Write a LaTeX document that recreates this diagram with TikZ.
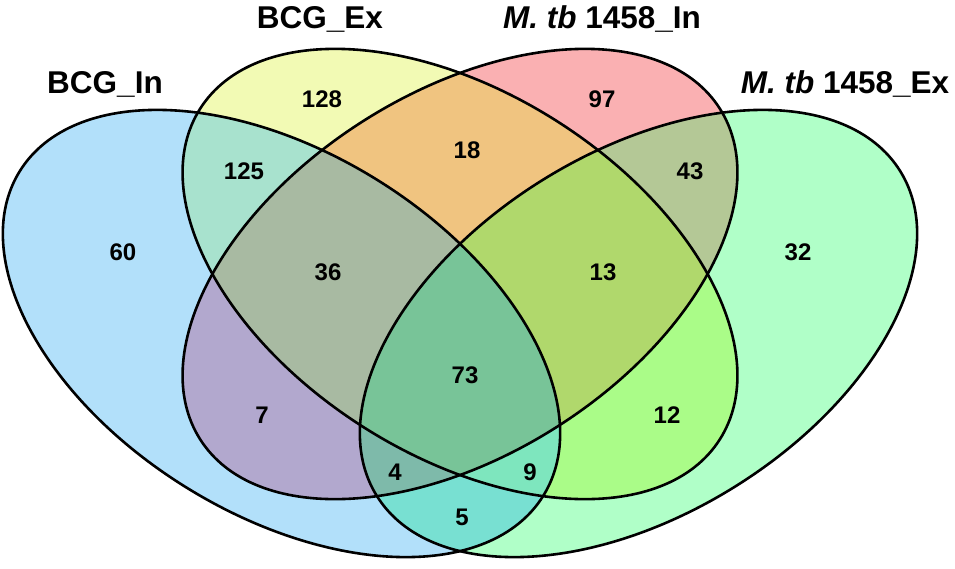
\documentclass[tikz,border=0pt]{standalone}
\usepackage{fontspec}
\setmainfont{Liberation Sans}
\definecolor{cA}{RGB}{178,224,250}
\definecolor{cB}{RGB}{242,250,180}
\definecolor{cC}{RGB}{250,176,178}
\definecolor{cD}{RGB}{176,255,200}
\definecolor{cAB}{RGB}{168,226,206}
\definecolor{cAC}{RGB}{178,168,206}
\definecolor{cAD}{RGB}{120,224,210}
\definecolor{cBC}{RGB}{240,196,128}
\definecolor{cBD}{RGB}{170,252,136}
\definecolor{cCD}{RGB}{180,200,150}
\definecolor{cABC}{RGB}{168,186,162}
\definecolor{cABD}{RGB}{126,230,190}
\definecolor{cACD}{RGB}{126,186,170}
\definecolor{cBCD}{RGB}{176,216,108}
\definecolor{cABCD}{RGB}{120,196,152}
\tikzstyle{num}=[font=\fontsize{24}{24}\selectfont\bfseries]
\tikzstyle{title}=[font=\fontsize{31.5}{32}\selectfont\bfseries, anchor=base]
\tikzstyle{outline}=[draw=black, line width=2.6pt]
\tikzstyle{rotA}=[rotate around={-31.8:(281.5,333.5)}]
\tikzstyle{rotB}=[rotate around={-32.5:(460,274)}]
\tikzstyle{rotC}=[rotate around={32.5:(460,274)}]
\tikzstyle{rotD}=[rotate around={31.8:(638.5,333.5)}]
\newcommand{\ellA}{(281.5,333.5) ellipse [x radius=308pt, y radius=181pt]}
\newcommand{\ellB}{(460,274) ellipse [x radius=308pt, y radius=181pt]}
\newcommand{\ellC}{(460,274) ellipse [x radius=308pt, y radius=181pt]}
\newcommand{\ellD}{(638.5,333.5) ellipse [x radius=308pt, y radius=181pt]}
\begin{document}
\begin{tikzpicture}[x=1pt,y=-1pt]
  \useasboundingbox (0,0) rectangle (955,568);
  % one set
  \fill[cA,rotA] \ellA;
  \fill[cB,rotB] \ellB;
  \fill[cC,rotC] \ellC;
  \fill[cD,rotD] \ellD;
  % two sets
  \begin{scope} \clip[rotA] \ellA; \fill[cAB,rotB] \ellB; \end{scope}
  \begin{scope} \clip[rotA] \ellA; \fill[cAC,rotC] \ellC; \end{scope}
  \begin{scope} \clip[rotA] \ellA; \fill[cAD,rotD] \ellD; \end{scope}
  \begin{scope} \clip[rotB] \ellB; \fill[cBC,rotC] \ellC; \end{scope}
  \begin{scope} \clip[rotB] \ellB; \fill[cBD,rotD] \ellD; \end{scope}
  \begin{scope} \clip[rotC] \ellC; \fill[cCD,rotD] \ellD; \end{scope}
  % three sets
  \begin{scope} \clip[rotA] \ellA; \clip[rotB] \ellB; \fill[cABC,rotC] \ellC; \end{scope}
  \begin{scope} \clip[rotA] \ellA; \clip[rotB] \ellB; \fill[cABD,rotD] \ellD; \end{scope}
  \begin{scope} \clip[rotA] \ellA; \clip[rotC] \ellC; \fill[cACD,rotD] \ellD; \end{scope}
  \begin{scope} \clip[rotB] \ellB; \clip[rotC] \ellC; \fill[cBCD,rotD] \ellD; \end{scope}
  % all four
  \begin{scope} \clip[rotA] \ellA; \clip[rotB] \ellB; \clip[rotC] \ellC; \fill[cABCD,rotD] \ellD; \end{scope}
  % outlines
  \draw[outline,rotA] \ellA;
  \draw[outline,rotB] \ellB;
  \draw[outline,rotC] \ellC;
  \draw[outline,rotD] \ellD;
  % set names
  \node[title] (tA) at (105,93) {BCG\_In};
  \node[title] (tB) at (320,28) {BCG\_Ex};
  \node[title] (tC) at (602,28) {{\itshape M. tb} 1458\_In};
  \node[title] (tD) at (845,93) {{\itshape M. tb} 1458\_Ex};
  % counts
  \node[num] (nA) at (123,252) {60};
  \node[num] (nB) at (322,99) {128};
  \node[num] (nC) at (602,99) {97};
  \node[num] (nD) at (798,252) {32};
  \node[num] (nAB) at (244,171) {125};
  \node[num] (nAC) at (262,415) {7};
  \node[num] (nAD) at (462,517) {5};
  \node[num] (nBC) at (467,150) {18};
  \node[num] (nBD) at (667,415) {12};
  \node[num] (nCD) at (690,171) {43};
  \node[num] (nABC) at (328,272) {36};
  \node[num] (nABD) at (530,472) {9};
  \node[num] (nACD) at (395,472) {4};
  \node[num] (nBCD) at (603,272) {13};
  \node[num] (nABCD) at (465,375) {73};
\end{tikzpicture}
\end{document}
